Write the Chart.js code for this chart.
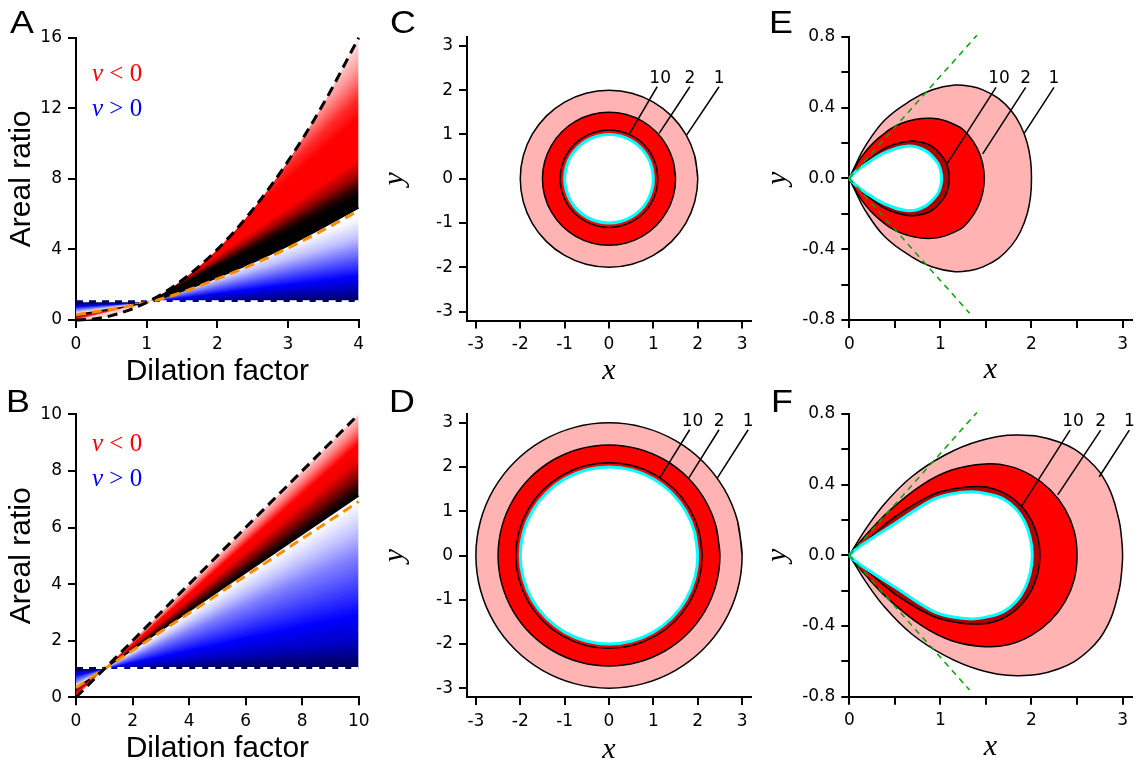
<!DOCTYPE html>
<html>
<head>
<meta charset="utf-8">
<script src="https://cdn.jsdelivr.net/npm/chart.js@4.4.1/dist/chart.umd.min.js"></script>
<style>
  body { margin: 0; background: #fff; }
  #fig { position: relative; width: 1143px; height: 766px; overflow: hidden; font-family: "Liberation Sans", Arial, sans-serif; color: #000; }
  #fig canvas { position: absolute; }
  .letter { position: absolute; font-size: 32px; line-height: 32px; transform: scaleX(1.12); transform-origin: 0 0; }
  .nu { position: absolute; font-family: "Liberation Serif", "Times New Roman", serif; font-size: 25px; line-height: 25px; white-space: pre; }
  .nu i { font-style: italic; }
  .ring { position: absolute; font-family: "DejaVu Sans", sans-serif; font-size: 17px; line-height: 18px; transform: translateX(-50%); white-space: pre; }
</style>
</head>
<body>
<div id="fig"></div>
<script>
// ---- values ----

// A: areal ratio against dilation factor (0..4)
const dilationA = [0, 0.25, 0.5, 0.75, 1, 1.25, 1.5, 2, 2.5, 3, 3.5, 4];
const upperA    = [0, 0.06, 0.25, 0.56, 1, 1.56, 2.25, 4, 6.25, 9, 12.25, 16];
const redEdgeA  = [0.3, 0.46, 0.62, 0.8, 1, 1.28, 1.62, 2.4, 3.25, 4.2, 5.25, 6.35];
const orangeA   = [0.3, 0.45, 0.61, 0.79, 1, 1.25, 1.57, 2.33, 3.15, 4.08, 5.1, 6.2];
const unityA    = [1, 1, 1, 1, 1, 1, 1, 1, 1, 1, 1, 1];

// B: same, 0..10
const dilationB = [0, 1, 10];
const upperB    = [0, 1, 10];
const redEdgeB  = [0.32, 1, 7.12];
const orangeB   = [0.34, 1, 6.92];
const unityB    = [1, 1, 1];

// tick values
const ticksAx = [0, 1, 2, 3, 4];
const ticksAy = [0, 4, 8, 12, 16];
const ticksBx = [0, 2, 4, 6, 8, 10];
const ticksBy = [0, 2, 4, 6, 8, 10];
const ticksCD = [-3, -2, -1, 0, 1, 2, 3];
const ticksEFx = [0, 0.5, 1, 1.5, 2, 2.5, 3];
const ticksEFy = [-0.8, -0.6, -0.4, -0.2, 0, 0.2, 0.4, 0.6, 0.8];

// C / D: ring outlines (the loop runs one step past its start so the join is smooth)
const r10X = [1, 0.966, 0.866, 0.707, 0.5, 0.259, 0, -0.259, -0.5, -0.707, -0.866, -0.966, -1, -0.966, -0.866, -0.707, -0.5, -0.259, 0, 0.259, 0.5, 0.707, 0.866, 0.966, 1, 0.966];
const r10Y = [0, 0.259, 0.5, 0.707, 0.866, 0.966, 1, 0.966, 0.866, 0.707, 0.5, 0.259, 0, -0.259, -0.5, -0.707, -0.866, -0.966, -1, -0.966, -0.866, -0.707, -0.5, -0.259, 0, 0.259];
const r11X = [1.1, 1.063, 0.953, 0.778, 0.55, 0.285, 0, -0.285, -0.55, -0.778, -0.953, -1.063, -1.1, -1.063, -0.953, -0.778, -0.55, -0.285, 0, 0.285, 0.55, 0.778, 0.953, 1.063, 1.1, 1.063];
const r11Y = [0, 0.285, 0.55, 0.778, 0.953, 1.063, 1.1, 1.063, 0.953, 0.778, 0.55, 0.285, 0, -0.285, -0.55, -0.778, -0.953, -1.063, -1.1, -1.063, -0.953, -0.778, -0.55, -0.285, 0, 0.285];
const r15X = [1.5, 1.449, 1.299, 1.061, 0.75, 0.388, 0, -0.388, -0.75, -1.061, -1.299, -1.449, -1.5, -1.449, -1.299, -1.061, -0.75, -0.388, 0, 0.388, 0.75, 1.061, 1.299, 1.449, 1.5, 1.449];
const r15Y = [0, 0.388, 0.75, 1.061, 1.299, 1.449, 1.5, 1.449, 1.299, 1.061, 0.75, 0.388, 0, -0.388, -0.75, -1.061, -1.299, -1.449, -1.5, -1.449, -1.299, -1.061, -0.75, -0.388, 0, 0.388];
const r20X = [2, 1.932, 1.732, 1.414, 1, 0.518, 0, -0.518, -1, -1.414, -1.732, -1.932, -2, -1.932, -1.732, -1.414, -1, -0.518, 0, 0.518, 1, 1.414, 1.732, 1.932, 2, 1.932];
const r20Y = [0, 0.518, 1, 1.414, 1.732, 1.932, 2, 1.932, 1.732, 1.414, 1, 0.518, 0, -0.518, -1, -1.414, -1.732, -1.932, -2, -1.932, -1.732, -1.414, -1, -0.518, 0, 0.518];
const r21X = [2.1, 2.028, 1.819, 1.485, 1.05, 0.544, 0, -0.544, -1.05, -1.485, -1.819, -2.028, -2.1, -2.028, -1.819, -1.485, -1.05, -0.544, 0, 0.544, 1.05, 1.485, 1.819, 2.028, 2.1, 2.028];
const r21Y = [0, 0.544, 1.05, 1.485, 1.819, 2.028, 2.1, 2.028, 1.819, 1.485, 1.05, 0.544, 0, -0.544, -1.05, -1.485, -1.819, -2.028, -2.1, -2.028, -1.819, -1.485, -1.05, -0.544, 0, 0.544];
const r25X = [2.5, 2.415, 2.165, 1.768, 1.25, 0.647, 0, -0.647, -1.25, -1.768, -2.165, -2.415, -2.5, -2.415, -2.165, -1.768, -1.25, -0.647, 0, 0.647, 1.25, 1.768, 2.165, 2.415, 2.5, 2.415];
const r25Y = [0, 0.647, 1.25, 1.768, 2.165, 2.415, 2.5, 2.415, 2.165, 1.768, 1.25, 0.647, 0, -0.647, -1.25, -1.768, -2.165, -2.415, -2.5, -2.415, -2.165, -1.768, -1.25, -0.647, 0, 0.647];
const r30X = [3, 2.898, 2.598, 2.121, 1.5, 0.776, 0, -0.776, -1.5, -2.121, -2.598, -2.898, -3, -2.898, -2.598, -2.121, -1.5, -0.776, 0, 0.776, 1.5, 2.121, 2.598, 2.898, 3, 2.898];
const r30Y = [0, 0.776, 1.5, 2.121, 2.598, 2.898, 3, 2.898, 2.598, 2.121, 1.5, 0.776, 0, -0.776, -1.5, -2.121, -2.598, -2.898, -3, -2.898, -2.598, -2.121, -1.5, -0.776, 0, 0.776];

// E: teardrop outlines
const e1X = [0, 0.06, 0.172, 0.39, 0.685, 0.904, 1.16, 1.328, 1.467, 1.641, 1.78, 1.879, 1.953, 1.99, 2.0, 1.99, 1.953, 1.879, 1.78, 1.641, 1.467, 1.328, 1.16, 0.904, 0.685, 0.39, 0.172, 0.06, 0];
const e1Y = [0, 0.066, 0.179, 0.33, 0.443, 0.499, 0.527, 0.52, 0.5, 0.45, 0.38, 0.3, 0.2, 0.1, 0, -0.1, -0.2, -0.3, -0.38, -0.45, -0.5, -0.52, -0.527, -0.499, -0.443, -0.33, -0.179, -0.066, 0];
const e2X = [0, 0.136, 0.318, 0.575, 0.904, 1.193, 1.315, 1.405, 1.462, 1.482, 1.462, 1.405, 1.315, 1.193, 0.904, 0.575, 0.318, 0.136, 0];
const e2Y = [0, 0.123, 0.226, 0.311, 0.339, 0.294, 0.239, 0.169, 0.088, 0, -0.088, -0.169, -0.239, -0.294, -0.339, -0.311, -0.226, -0.123, 0];
const e10X = [0, 0.06, 0.172, 0.39, 0.55, 0.703, 0.9, 1.045, 1.085, 1.098, 1.085, 1.045, 0.9, 0.703, 0.55, 0.39, 0.172, 0.06, 0];
const e10Y = [0, 0.035, 0.088, 0.17, 0.2, 0.211, 0.183, 0.106, 0.055, 0, -0.055, -0.106, -0.183, -0.211, -0.2, -0.17, -0.088, -0.035, 0];
const eLimX = [0, 0.06, 0.172, 0.39, 0.648, 0.831, 0.965, 1.001, 1.014, 1.001, 0.965, 0.831, 0.648, 0.39, 0.172, 0.06, 0];
const eLimY = [0, 0.034, 0.078, 0.145, 0.183, 0.158, 0.092, 0.048, 0, -0.048, -0.092, -0.158, -0.183, -0.145, -0.078, -0.034, 0];

// F: teardrop outlines
const f1X = [0, 0.06, 0.172, 0.39, 0.685, 1.05, 1.416, 1.855, 2.294, 2.624, 2.843, 2.96, 2.988, 3.0, 2.988, 2.96, 2.843, 2.624, 2.294, 1.855, 1.416, 1.05, 0.685, 0.39, 0.172, 0.06, 0];
const f1Y = [0, 0.05, 0.143, 0.294, 0.445, 0.568, 0.646, 0.681, 0.643, 0.54, 0.389, 0.2, 0.1, 0, -0.1, -0.2, -0.389, -0.54, -0.643, -0.681, -0.646, -0.568, -0.445, -0.294, -0.143, -0.05, 0];
const f2X = [0, 0.06, 0.172, 0.428, 0.795, 1.124, 1.49, 1.752, 1.998, 2.208, 2.369, 2.47, 2.5, 2.47, 2.369, 2.208, 1.998, 1.752, 1.49, 1.124, 0.795, 0.428, 0.172, 0.06, 0];
const f2Y = [0, 0.04, 0.109, 0.247, 0.398, 0.483, 0.517, 0.505, 0.453, 0.37, 0.262, 0.135, 0, -0.135, -0.262, -0.37, -0.453, -0.505, -0.517, -0.483, -0.398, -0.247, -0.109, -0.04, 0];
const f10X = [0, 0.06, 0.172, 0.502, 0.905, 1.16, 1.416, 1.591, 1.755, 1.895, 2.002, 2.07, 2.093, 2.07, 2.002, 1.895, 1.755, 1.591, 1.416, 1.16, 0.905, 0.502, 0.172, 0.06, 0];
const f10Y = [0, 0.032, 0.077, 0.219, 0.342, 0.378, 0.389, 0.376, 0.337, 0.275, 0.195, 0.101, 0, -0.101, -0.195, -0.275, -0.337, -0.376, -0.389, -0.378, -0.342, -0.219, -0.077, -0.032, 0];
const fLimX = [0, 0.06, 0.172, 0.502, 0.905, 1.12, 1.343, 1.515, 1.69, 1.83, 1.925, 1.987, 2.009, 1.987, 1.925, 1.83, 1.69, 1.515, 1.343, 1.12, 0.905, 0.502, 0.172, 0.06, 0];
const fLimY = [0, 0.03, 0.072, 0.181, 0.313, 0.348, 0.36, 0.348, 0.32, 0.262, 0.19, 0.097, 0, -0.097, -0.19, -0.262, -0.32, -0.348, -0.36, -0.348, -0.313, -0.181, -0.072, -0.03, 0];

// tangent guides at the cusp (E, F)
const guideUpX = [0, 1.4], guideUpY = [0, 0.808];
const guideLoX = [0, 1.32], guideLoY = [0, -0.762];

// leader lines: [x top, y top, x end, y end] for labels 10, 2, 1
const ringNames = ['10', '2', '1'];
const leadersC = [[1.085, 2.077, 0.466, 1.025], [1.823, 2.077, 1.13, 1.025], [2.48, 2.077, 1.748, 0.986]];
const leadersD = [[1.817, 2.844, 1.145, 1.754], [2.48, 2.844, 1.8, 1.754], [3.136, 2.844, 2.443, 1.754]];
const leadersE = [[1.61, 0.514, 1.076, 0.085], [1.936, 0.514, 1.464, 0.138], [2.247, 0.514, 1.921, 0.255]];
const leadersF = [[2.423, 0.709, 1.892, 0.279], [2.76, 0.709, 2.288, 0.342], [3.074, 0.709, 2.744, 0.445]];

// ---- styles ----
const SANS = '"Liberation Sans", Arial, sans-serif';
const TICKS = '"DejaVu Sans", sans-serif';
const SERIF = '"Liberation Serif", "Times New Roman", serif';
const PINK = '#ffb3b3', RED = '#ff0000', DARKRED = '#b00000', CYAN = '#00ffff';
const ORANGE = '#ff8c00', GREEN = '#00a800', NAVY = '#000060';

// colour by direction (degrees, in pixels) seen from the point (1, 1)
const redStopsA = {
  right: [[51.5, '#ffe8e8'], [48, '#ff9a9a'], [44, '#ff2a2a'], [41, '#ff0000'], [34, '#ff0000'], [31, '#a00000'], [28.5, '#300000'], [26.5, '#000000'], [0, '#000000']],
  left: [[14.5, '#ffd0d0'], [13, '#ff2020'], [11.5, '#a00000'], [10.3, '#000000'], [0, '#000000']]
};
const blueStopsA = {
  right: [[90, '#ffffff'], [22, '#ffffff'], [17, '#c0c0ff'], [12, '#6060ff'], [7, '#0000ff'], [3, '#0000a8'], [0, '#000048']],
  left: [[90, '#ffffff'], [9.5, '#ffffff'], [6.5, '#9090ff'], [3.5, '#0000ff'], [0, '#000048']]
};
const redSideB = [[45.5, '#ffe0e0'], [43.5, '#ff8080'], [41.5, '#ff0000'], [39.5, '#f00000'], [37.5, '#900000'], [35.3, '#200000'], [34.3, '#000000'], [0, '#000000']];
const blueSideB = [[90, '#ffffff'], [33.5, '#ffffff'], [29, '#c8c8ff'], [24, '#8080ff'], [18, '#4040ff'], [12, '#0000ff'], [6, '#0000c0'], [0, '#000050']];
const redStopsB = {right: redSideB, left: redSideB};
const blueStopsB = {right: blueSideB, left: blueSideB};

// plot areas on the page, plus the room kept for the y scale (W) and x scale (H)
const boxes = {
  A: {L: 76, T: 37.7, R: 358.7, B: 320, W: 72, H: 70},
  B: {L: 76, T: 414.3, R: 358.7, B: 697.3, W: 72, H: 69},
  C: {L: 467, T: 37, R: 751, B: 320.5, W: 90, H: 68.5},
  D: {L: 467, T: 414, R: 751, B: 697, W: 90, H: 71},
  E: {L: 849.3, T: 36.7, R: 1131.7, B: 320, W: 89, H: 68},
  F: {L: 849.3, T: 414, R: 1131.7, B: 696.7, W: 89, H: 68}
};

Chart.defaults.font.family = SANS;
Chart.defaults.font.size = 17;
Chart.defaults.color = '#000';

const fig = document.getElementById('fig');

function pts(xs, ys) {
  return xs.map((x, i) => ({x: x, y: ys[i]}));
}

function conic(chart, stops) {
  const xs = chart.scales.x, ys = chart.scales.y;
  if (!xs || !ys || !chart.chartArea) return 'rgba(0,0,0,0)';
  const g = chart.ctx.createConicGradient(0, xs.getPixelForValue(1), ys.getPixelForValue(1));
  const list = [];
  stops.right.forEach(([deg, c]) => list.push([1 - deg / 360, c]));
  stops.left.forEach(([deg, c]) => list.push([0.5 - deg / 360, c]));
  list.sort((a, b) => a[0] - b[0]).forEach(([o, c]) => g.addColorStop(o, c));
  return g;
}

function axis(cfg, which, size) {
  return {
    type: 'linear',
    min: cfg.min,
    max: cfg.max,
    afterBuildTicks: s => { s.ticks = cfg.ticks.map(v => ({value: v})); },
    afterFit: s => { if (which === 'x') s.height = size; else s.width = size; },
    ticks: {autoSkip: false, maxRotation: 0, padding: 6, color: '#000', font: {family: TICKS, size: 17}, callback: cfg.label},
    grid: {drawOnChartArea: false, drawTicks: true, tickLength: 8, tickWidth: 2, lineWidth: 2, tickColor: '#000', color: '#000'},
    border: {display: true, color: '#000', width: 2},
    title: {display: true, text: cfg.title, color: '#000', padding: 0, font: cfg.font}
  };
}

function makeChart(box, xCfg, yCfg, datasets) {
  const left = Math.floor(box.L - box.W), top = Math.floor(box.T - 20);
  const width = Math.ceil(box.R + 20 - left), height = Math.ceil(box.B + box.H - top);
  const cv = document.createElement('canvas');
  cv.width = width; cv.height = height;
  cv.style.left = left + 'px'; cv.style.top = top + 'px';
  cv.style.width = width + 'px'; cv.style.height = height + 'px';
  fig.appendChild(cv);
  const n = datasets.length;
  const chart = new Chart(cv, {
    type: 'line',
    data: {
      datasets: datasets.map((d, i) => Object.assign({
        order: n - i, pointRadius: 0, pointHoverRadius: 0, clip: false, fill: false,
        borderColor: 'rgba(0,0,0,0)', borderWidth: 0, tension: 0
      }, d))
    },
    options: {
      responsive: false,
      maintainAspectRatio: false,
      animation: false,
      devicePixelRatio: 1,
      events: [],
      layout: {padding: {left: 0, top: box.T - top, right: left + width - box.R, bottom: 0}},
      plugins: {legend: {display: false}, tooltip: {enabled: false}},
      scales: {
        x: axis(xCfg, 'x', top + height - box.B),
        y: axis(yCfg, 'y', box.L - left)
      }
    }
  });
  chart.$left = left; chart.$top = top;
  return chart;
}

const sansTitle = {family: SANS, size: 30};
const serifTitle = {family: SERIF, size: 30, style: 'italic'};
const plain = v => String(v);
const everyOther = v => Number.isInteger(v) ? String(v) : '';
const fourTenths = v => Math.abs(v / 0.4 - Math.round(v / 0.4)) < 1e-6 ? v.toFixed(1) : '';

function ratioSets(xs, upper, edge, orange, unity, redStops, blueStops, smooth) {
  const curve = smooth ? {cubicInterpolationMode: 'monotone'} : {};
  return [
    Object.assign({data: pts(xs, upper), fill: 2, backgroundColor: c => conic(c.chart, redStops)}, curve),
    Object.assign({data: pts(xs, orange), fill: 3, backgroundColor: c => conic(c.chart, blueStops)}, curve),
    Object.assign({data: pts(xs, edge), borderColor: '#000', borderWidth: 1.5}, curve),
    {data: pts(xs, unity), borderColor: '#ffffff', borderWidth: 4, borderDash: [7, 6],
      segment: {borderColor: s => s.p0.parsed.x < 1 ? NAVY : '#ffffff'}},
    Object.assign({data: pts(xs, orange), borderColor: ORANGE, borderWidth: 3, borderDash: [10, 6]}, curve),
    Object.assign({data: pts(xs, upper), borderColor: '#000', borderWidth: 3, borderDash: [10, 6]}, curve)
  ];
}

function shape(xs, ys, fillColor, lineColor, lw, tension) {
  return {data: pts(xs, ys), fill: 'shape', backgroundColor: fillColor, borderColor: lineColor, borderWidth: lw, tension: tension};
}

function leaderSets(leaders) {
  return leaders.map(l => ({data: [{x: l[0], y: l[1]}, {x: l[2], y: l[3]}], borderColor: '#000', borderWidth: 1.5}));
}

function guideSets() {
  return [
    {data: pts(guideUpX, guideUpY), borderColor: GREEN, borderWidth: 1.5, borderDash: [6, 5]},
    {data: pts(guideLoX, guideLoY), borderColor: GREEN, borderWidth: 1.5, borderDash: [6, 5]}
  ];
}

// ---- panels ----
makeChart(boxes.A,
  {min: 0, max: 4, ticks: ticksAx, label: plain, title: 'Dilation factor', font: sansTitle},
  {min: 0, max: 16, ticks: ticksAy, label: plain, title: 'Areal ratio', font: sansTitle},
  ratioSets(dilationA, upperA, redEdgeA, orangeA, unityA, redStopsA, blueStopsA, true));

makeChart(boxes.B,
  {min: 0, max: 10, ticks: ticksBx, label: plain, title: 'Dilation factor', font: sansTitle},
  {min: 0, max: 10, ticks: ticksBy, label: plain, title: 'Areal ratio', font: sansTitle},
  ratioSets(dilationB, upperB, redEdgeB, orangeB, unityB, redStopsB, blueStopsB, false));

const chartC = makeChart(boxes.C,
  {min: -3.2, max: 3.2, ticks: ticksCD, label: plain, title: 'x', font: serifTitle},
  {min: -3.2, max: 3.2, ticks: ticksCD, label: plain, title: 'y', font: serifTitle},
  [
    shape(r20X, r20Y, PINK, '#000', 1.5, 0.34),
    shape(r15X, r15Y, RED, '#000', 1.5, 0.34),
    shape(r11X, r11Y, RED, '#000', 1.5, 0.34),
    shape(r10X, r10Y, '#ffffff', CYAN, 3, 0.34)
  ].concat(leaderSets(leadersC)));

const chartD = makeChart(boxes.D,
  {min: -3.2, max: 3.2, ticks: ticksCD, label: plain, title: 'x', font: serifTitle},
  {min: -3.2, max: 3.2, ticks: ticksCD, label: plain, title: 'y', font: serifTitle},
  [
    shape(r30X, r30Y, PINK, '#000', 1.5, 0.34),
    shape(r25X, r25Y, RED, '#000', 1.5, 0.34),
    shape(r21X, r21Y, RED, '#000', 1.5, 0.34),
    shape(r20X, r20Y, '#ffffff', CYAN, 3, 0.34)
  ].concat(leaderSets(leadersD)));

const chartE = makeChart(boxes.E,
  {min: 0, max: 3.1, ticks: ticksEFx, label: everyOther, title: 'x', font: serifTitle},
  {min: -0.8, max: 0.8, ticks: ticksEFy, label: fourTenths, title: 'y', font: serifTitle},
  [
    shape(e1X, e1Y, PINK, '#000', 1.5, 0.4),
    shape(e2X, e2Y, RED, '#000', 1.5, 0.4),
    shape(e10X, e10Y, DARKRED, '#000', 1.5, 0.4),
    shape(eLimX, eLimY, '#ffffff', CYAN, 3, 0.4)
  ].concat(leaderSets(leadersE), guideSets()));

const chartF = makeChart(boxes.F,
  {min: 0, max: 3.1, ticks: ticksEFx, label: everyOther, title: 'x', font: serifTitle},
  {min: -0.8, max: 0.8, ticks: ticksEFy, label: fourTenths, title: 'y', font: serifTitle},
  [
    shape(f1X, f1Y, PINK, '#000', 1.5, 0.4),
    shape(f2X, f2Y, RED, '#000', 1.5, 0.4),
    shape(f10X, f10Y, DARKRED, '#000', 1.5, 0.4),
    shape(fLimX, fLimY, '#ffffff', CYAN, 3, 0.4)
  ].concat(leaderSets(leadersF), guideSets()));

// ---- text on top ----
function addText(cls, html, left, top, color) {
  const el = document.createElement('div');
  el.className = cls;
  el.innerHTML = html;
  el.style.left = left + 'px';
  el.style.top = top + 'px';
  if (color) el.style.color = color;
  fig.appendChild(el);
  return el;
}

[['A', 10, 6.2], ['B', 5.8, 384.9], ['C', 390, 6.2], ['D', 389.2, 384.9], ['E', 769.2, 6.2], ['F', 770.5, 384.9]]
  .forEach(([t, x, y]) => addText('letter', t, x, y));

addText('nu', '<i>v</i> &lt; 0', 92, 60, '#ff0000');
addText('nu', '<i>v</i> &gt; 0', 92, 95, '#0000ff');
addText('nu', '<i>v</i> &lt; 0', 92, 430, '#ff0000');
addText('nu', '<i>v</i> &gt; 0', 92, 465, '#0000ff');

function ringLabels(chart, leaders) {
  leaders.forEach((l, i) => {
    const px = chart.$left + chart.scales.x.getPixelForValue(l[0]) + (i === 0 ? 3 : 0);
    const py = chart.$top + chart.scales.y.getPixelForValue(l[1]);
    addText('ring', ringNames[i], px, py - 10 - 9);
  });
}
ringLabels(chartC, leadersC);
ringLabels(chartD, leadersD);
ringLabels(chartE, leadersE);
ringLabels(chartF, leadersF);
</script>
</body>
</html>
